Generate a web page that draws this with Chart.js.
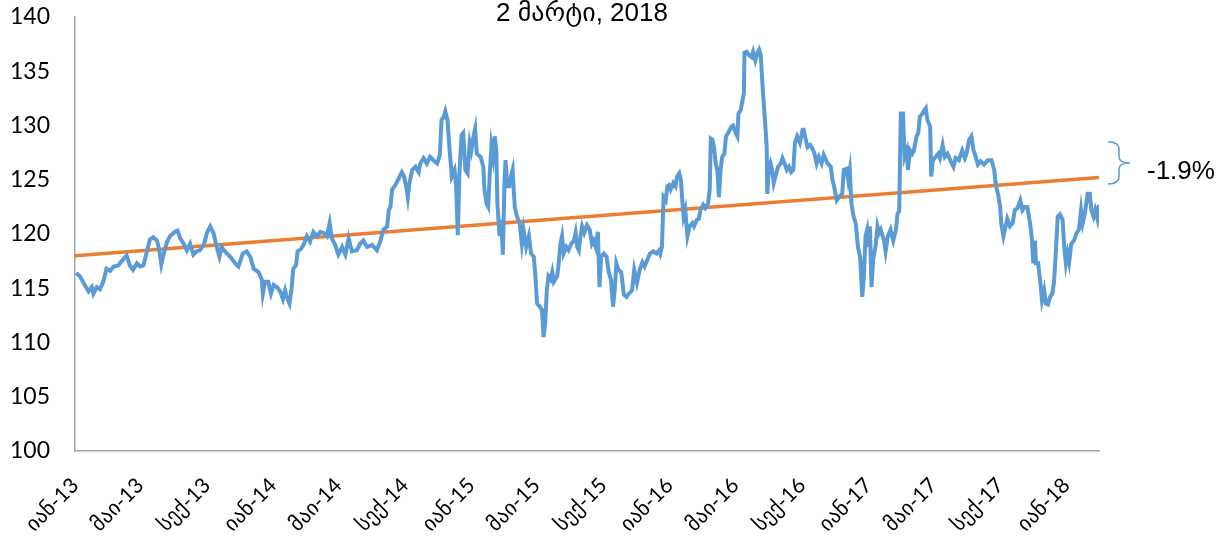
<!DOCTYPE html>
<html lang="ka">
<head>
<meta charset="utf-8">
<title>2 მარტი, 2018</title>
<script src="https://cdn.jsdelivr.net/npm/chart.js@4.4.1/dist/chart.umd.min.js"></script>
<style>
    html, body { margin: 0; padding: 0; background: #ffffff; }
    #wrap { width: 1227px; height: 541px; position: relative; }
</style>
</head>
<body>
<div id="wrap"><canvas id="indexChart" width="1227" height="541"></canvas></div>
<script>
// --- data (days counted from 1 Jan 2013) ---
const startDate = '2013-01-01';
const endDay = 1886; // 2 March 2018

const dayIndex = [
    2, 9, 18, 25, 31, 34, 40, 46, 52, 58, 65, 71, 80, 86, 95, 101, 107, 114, 120, 126,
    133, 138, 144, 151, 155, 159, 163, 169, 175, 184, 189, 194, 200, 206, 212, 218, 224, 230, 238, 243,
    249, 255, 261, 266, 270, 276, 286, 295, 301, 309, 316, 323, 329, 338, 344, 346, 350, 356, 361, 366,
    372, 378, 383, 387, 390, 395, 399, 402, 407, 410, 416, 421, 427, 433, 439, 446, 452, 458, 464, 469,
    473, 479, 485, 492, 498, 504, 510, 519,
    525, 531, 538, 547, 556, 562, 568, 575, 578, 581, 584, 590, 593, 599, 602, 606, 611, 613, 616, 621,
    627, 633, 636, 642, 648, 654, 660, 667, 672, 675, 679, 682, 686, 690, 694, 699, 702, 705, 708, 712,
    715, 719, 723, 727, 730, 734, 737, 740, 747, 752, 754, 758, 761, 764, 767, 770, 773, 776, 778, 782,
    785, 788, 791, 793, 796, 800, 803, 806, 808, 810, 814, 819, 823, 826, 831, 836, 840, 845, 848, 851,
    856, 860, 863, 866, 869, 872, 876, 879, 882, 888, 891, 894, 897, 900, 905, 909, 914, 919, 922, 925,
    928, 931, 934, 938, 943, 948, 952, 955, 959, 963, 966, 969, 974, 979, 983, 987, 991, 994, 997, 1001,
    1006, 1011, 1016, 1020, 1026, 1030, 1035, 1040, 1045, 1049, 1054, 1059, 1065, 1071, 1076,
    1078, 1081, 1084, 1088, 1091, 1094, 1097, 1102, 1106, 1109, 1113, 1116, 1118, 1121, 1124, 1128, 1132, 1137, 1140, 1145,
    1149, 1152, 1157, 1161, 1166, 1169, 1171, 1174, 1177, 1180, 1183, 1186, 1189, 1192, 1196, 1199, 1204, 1209, 1212, 1217,
    1220, 1222, 1226, 1229, 1232, 1233, 1237, 1241, 1246, 1249, 1253, 1257, 1260, 1263, 1266, 1269, 1272, 1274, 1275, 1278,
    1281, 1284, 1287, 1290, 1295, 1300, 1303, 1307, 1311, 1315, 1319, 1323, 1326, 1330, 1335, 1340, 1342, 1346, 1349, 1354,
    1358, 1362, 1366, 1370, 1375, 1379, 1386, 1392, 1395, 1398, 1403, 1407, 1413, 1416, 1421, 1424, 1427, 1430, 1434, 1438,
    1442, 1446, 1450, 1453, 1456, 1459, 1462, 1464, 1467, 1470, 1475, 1478, 1481,
    1484, 1490, 1493, 1497, 1502, 1507, 1512, 1515, 1518, 1521, 1525, 1528, 1532, 1534, 1538, 1542, 1545, 1550, 1553, 1556,
    1561, 1564, 1567, 1570, 1575, 1577, 1580, 1585, 1590, 1593, 1598, 1602, 1607, 1613, 1618, 1622, 1628, 1634, 1639, 1642,
    1647, 1651, 1655, 1659, 1663, 1668, 1674, 1681, 1688, 1693, 1696, 1700, 1704, 1706, 1710, 1714, 1717, 1722, 1727, 1731,
    1736, 1741, 1745, 1749, 1754, 1759, 1762, 1765, 1768, 1770, 1774, 1778, 1781, 1785, 1788, 1792, 1796, 1800, 1803, 1806,
    1810, 1814, 1819, 1822, 1825, 1828, 1831, 1835, 1840, 1845, 1849, 1853, 1856, 1860, 1865, 1869, 1872, 1876, 1879, 1883,
    1886
];

const indexValues = [
    116.4, 116.1, 115.3, 114.7, 115.1, 114.5, 115.1, 114.9, 115.6, 116.8, 116.6, 117.0, 117.1, 117.5, 118.0, 117.1, 116.7, 117.3, 117.0, 117.1,
    118.5, 119.5, 119.7, 119.4, 118.6, 117.2, 118.1, 119.2, 119.8, 120.2, 120.3, 119.6, 119.1, 118.5, 119.1, 118.1, 118.4, 118.5, 119.1, 120.1,
    120.7, 120.1, 118.8, 117.9, 118.8, 118.4, 117.9, 117.3, 117.0, 118.2, 118.4, 117.9, 116.8, 116.5, 115.8, 114.5, 115.6, 115.6, 114.5, 115.3,
    115.1, 114.7, 114.0, 114.8, 114.2, 113.6, 115.0, 116.8, 117.1, 118.4, 118.6, 119.0, 119.8, 119.3, 120.2, 119.8, 120.2, 120.1, 119.8, 121.0,
    119.6, 119.0, 118.1, 118.8, 118.1, 119.6, 118.4, 118.5,
    119.1, 119.4, 118.8, 119.0, 118.5, 119.3, 120.4, 120.7, 122.2, 122.5, 124.1, 124.5, 124.8, 125.4, 125.7, 125.3, 124.1, 123.4, 124.7, 125.9,
    126.2, 125.7, 126.5, 127.0, 126.5, 127.1, 126.8, 126.5, 127.3, 130.5, 130.8, 131.3, 130.5, 127.7, 125.3, 125.9, 124.4, 119.9, 125.6, 129.1,
    129.3, 125.9, 125.6, 128.4, 127.7, 129.0, 129.7, 127.4, 127.1, 126.2, 124.1, 122.8, 122.5, 125.6, 128.1, 127.1, 129.0, 127.7, 122.8, 119.8,
    121.3, 118.1, 124.7, 126.8, 124.4, 124.4, 125.3, 125.9, 124.1, 122.5, 121.6, 121.0, 119.1, 120.4, 118.8, 119.8, 118.2, 117.9, 116.1, 113.6,
    113.3, 113.0, 110.5, 111.8, 114.8, 116.1, 115.8, 116.5, 115.6, 116.1, 117.3, 119.1, 119.8, 118.2, 118.8, 118.5, 119.1, 119.4, 120.1, 118.8,
    118.5, 119.8, 120.7, 120.1, 120.8, 120.4, 119.1, 119.4, 118.8, 120.2, 115.1, 117.9, 118.2, 117.9, 116.5, 115.8, 113.3, 114.8, 117.3, 116.7,
    116.5, 114.4, 114.2, 114.5, 114.8, 116.7, 115.5, 116.7, 117.4, 117.0, 117.6, 118.2, 118.4, 118.2, 118.5,
    118.2, 118.8, 123.4, 123.1, 124.4, 124.5, 124.1, 124.7, 124.4, 125.3, 125.6, 125.0, 123.4, 121.6, 122.2, 119.8, 120.7, 121.0, 120.7, 121.3,
    121.4, 122.2, 122.7, 122.4, 122.8, 124.1, 128.8, 128.7, 128.0, 126.5, 125.9, 123.4, 125.9, 127.1, 127.4, 129.0, 129.4, 129.9, 130.0, 129.3,
    129.0, 131.1, 131.4, 132.2, 133.0, 136.7, 136.8, 136.5, 136.3, 136.8, 136.0, 136.7, 137.0, 136.5, 133.9, 131.7, 129.6, 128.0, 123.7, 125.9,
    126.5, 125.9, 124.7, 125.3, 126.2, 126.5, 127.0, 126.5, 125.9, 126.2, 125.7, 125.9, 128.4, 129.0, 128.4, 129.6, 129.6, 128.7, 128.0, 128.2,
    127.9, 127.4, 126.5, 127.1, 126.5, 127.3, 126.5, 126.2, 125.0, 124.4, 123.1, 123.4, 123.7, 125.9, 126.0, 125.0, 125.9, 122.8, 121.6, 121.0,
    118.8, 117.9, 114.2, 116.1, 119.8, 120.4, 118.8, 120.7, 115.1, 117.6, 119.1, 120.7, 120.1,
    120.4, 119.4, 118.4, 119.8, 120.4, 119.4, 120.4, 121.9, 122.1, 131.1, 131.1, 127.1, 127.7, 125.9, 127.7, 127.4, 127.7, 129.0, 129.3, 130.8,
    131.1, 131.4, 131.6, 130.5, 129.9, 125.3, 126.8, 127.1, 127.4, 127.0, 128.2, 127.1, 127.4, 126.7, 126.2, 127.0, 126.8, 127.7, 127.0, 127.4,
    128.7, 129.0, 127.7, 127.1, 126.4, 126.7, 126.4, 126.8, 126.8, 125.9, 124.5, 123.7, 122.5, 121.0, 119.8, 120.7, 121.4, 120.7, 121.0, 122.2,
    122.4, 123.1, 122.2, 122.5, 122.5, 121.0, 119.8, 117.3, 119.4, 117.3, 117.3, 115.5, 113.9, 114.8, 113.6, 113.5, 114.2, 114.5, 115.5, 117.9,
    121.6, 121.8, 121.3, 118.8, 117.3, 118.2, 117.4, 119.1, 119.4, 120.1, 120.4, 122.2, 121.0, 121.9, 123.7, 123.7, 122.2, 121.6, 122.2, 121.4,
    122.7
];

// linear trend (start / end of the period)
const trendDays = [0, endDay];
const trendValues = [118.0, 125.2];

// x axis ticks
const tickDates = [
    '2013-01-01', '2013-05-01', '2013-09-01', '2014-01-01', '2014-05-01', '2014-09-01',
    '2015-01-01', '2015-05-01', '2015-09-01', '2016-01-01', '2016-05-01', '2016-09-01',
    '2017-01-01', '2017-05-01', '2017-09-01', '2018-01-01'
];
const tickLabels = [
    'იან-13', 'მაი-13', 'სექ-13', 'იან-14', 'მაი-14', 'სექ-14',
    'იან-15', 'მაი-15', 'სექ-15', 'იან-16', 'მაი-16', 'სექ-16',
    'იან-17', 'მაი-17', 'სექ-17', 'იან-18'
];

// annotation on the right
const titleText = '2 მარტი, 2018';
const gapLabel = '-1.9%';
const braceRange = [128.5, 124.6];

const BLUE = '#5B9BD5';
const ORANGE = '#ED7D31';
const AXIS = '#a6a6a6';

function toDay(str) {
    return Math.round((Date.parse(str) - Date.parse(startDate)) / 864e5);
}
const tickDays = tickDates.map(toDay);

// title + brace + percentage label
const extrasPlugin = {
    id: 'extras',
    afterDraw(chart) {
        const ctx = chart.ctx;
        const area = chart.chartArea;
        const y = chart.scales.y;
        ctx.save();

        // title
        ctx.fillStyle = '#000';
        ctx.font = '26px "Liberation Sans", Arial, "DejaVu Sans", sans-serif';
        ctx.textAlign = 'center';
        ctx.textBaseline = 'alphabetic';
        ctx.fillText(titleText, (area.left + area.right) / 2 - 5, 21);

        // brace
        const top = y.getPixelForValue(braceRange[0]);
        const bot = y.getPixelForValue(braceRange[1]);
        const mid = (top + bot) / 2;
        const x0 = area.right + 9, x1 = area.right + 20, x2 = area.right + 31;
        ctx.strokeStyle = BLUE;
        ctx.lineWidth = 1.5;
        ctx.beginPath();
        ctx.moveTo(x0, top);
        ctx.quadraticCurveTo(x1, top, x1, top + 8);
        ctx.lineTo(x1, mid - 6);
        ctx.quadraticCurveTo(x1, mid, x2, mid);
        ctx.quadraticCurveTo(x1, mid, x1, mid + 6);
        ctx.lineTo(x1, bot - 8);
        ctx.quadraticCurveTo(x1, bot, x0, bot);
        ctx.stroke();

        // percentage
        ctx.fillStyle = '#000';
        ctx.textAlign = 'left';
        ctx.textBaseline = 'middle';
        ctx.fillText(gapLabel, area.right + 48, mid + 9);
        ctx.restore();
    }
};

let indexChartInstance = null;

window.initChart = function() {
    if (typeof Chart === 'undefined') {
        console.warn("Chart.js Not Loaded.");
        return;
    }

    try {
        const ctx = document.getElementById('indexChart');
        const points = dayIndex.map((d, i) => ({ x: d, y: indexValues[i] }));
        const trend = trendDays.map((d, i) => ({ x: d, y: trendValues[i] }));

        indexChartInstance = new Chart(ctx, {
            type: 'line',
            data: {
                datasets: [
                    { label: 'index', data: points, borderColor: BLUE, borderWidth: 4, pointRadius: 0, tension: 0, order: 1 },
                    { label: 'trend', data: trend, borderColor: ORANGE, borderWidth: 3.5, pointRadius: 0, tension: 0, order: 2 }
                ]
            },
            options: {
                responsive: false,
                animation: false,
                layout: { padding: { left: 0, right: 128, top: 17, bottom: 0 } },
                plugins: { legend: { display: false }, tooltip: { enabled: false } },
                scales: {
                    x: {
                        type: 'linear',
                        min: 0,
                        max: endDay,
                        grid: { display: false, drawTicks: false },
                        border: { display: true, color: AXIS, width: 1.5 },
                        afterBuildTicks: (scale) => { scale.ticks = tickDays.map(v => ({ value: v })); },
                        afterFit: (scale) => {
                            scale.height = 90;
                            scale.paddingLeft = 0;
                            scale.paddingRight = 0;
                        },
                        ticks: {
                            autoSkip: false,
                            minRotation: 45,
                            maxRotation: 45,
                            padding: 22,
                            color: '#000',
                            font: { family: 'Lato, "DejaVu Sans", sans-serif', size: 21 },
                            callback: (v, i) => tickLabels[i]
                        }
                    },
                    y: {
                        min: 100,
                        max: 140,
                        grid: { display: false, drawTicks: false },
                        border: { display: true, color: AXIS, width: 1.5 },
                        afterFit: (scale) => {
                            scale.width = 75;
                            scale.paddingTop = 0;
                            scale.paddingBottom = 0;
                        },
                        ticks: {
                            stepSize: 5,
                            padding: 25,
                            color: '#000',
                            font: { family: 'Lato, sans-serif', size: 23 }
                        }
                    }
                }
            },
            plugins: [extrasPlugin]
        });
    } catch (error) {
        console.error("Chart Rendering Error:", error);
    }
};

document.addEventListener('DOMContentLoaded', () => {
    window.initChart();
});
</script>
</body>
</html>
